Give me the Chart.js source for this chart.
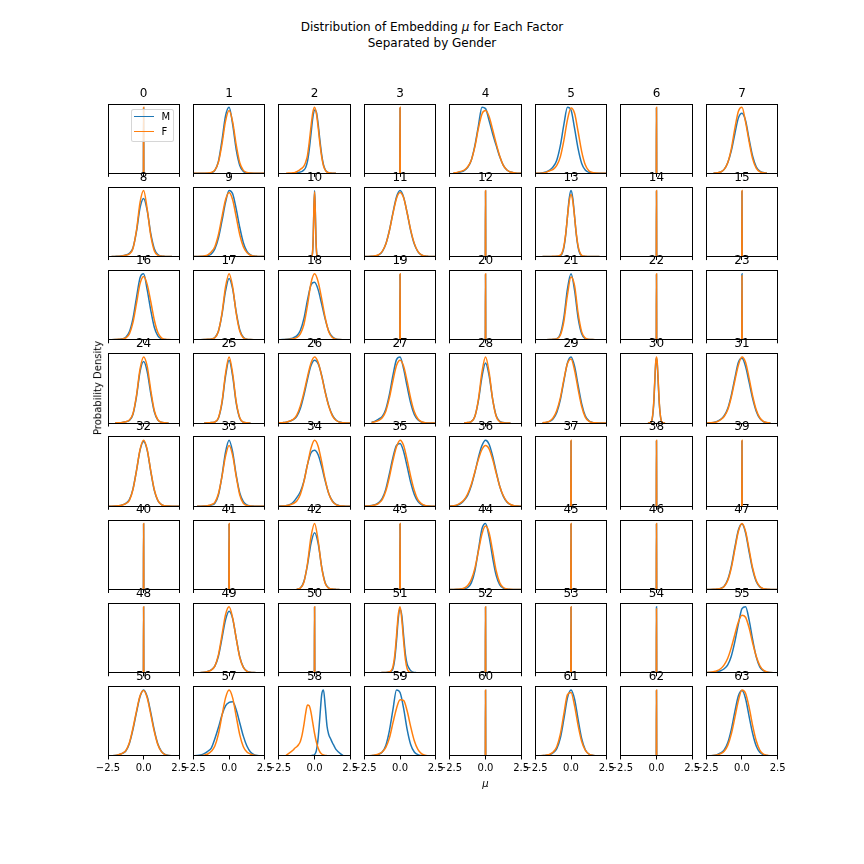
<!DOCTYPE html>
<html><head><meta charset="utf-8">
<script src="https://cdn.jsdelivr.net/npm/chart.js@4/dist/chart.umd.min.js"></script>
<style>
html,body{margin:0;padding:0;background:#fff;}
#fig{position:relative;width:864px;height:864px;overflow:hidden;background:#fff;font-family:'DejaVu Sans',sans-serif;color:#000;}
canvas.sub{position:absolute;}
.txt{position:absolute;white-space:nowrap;}
</style></head><body><div id="fig"></div>
<script>
// ---------- data ----------
const seriesNames = ['M', 'F'];
const seriesColors = ['#1f77b4', '#ff7f0e'];
const xTickValues = [-2.5, 0, 2.5];
const xTickLabels = ['\u22122.5', '0.0', '2.5'];
const factorLabels = Array.from({length: 64}, (_, i) => String(i));
const gridW = [-2.5,-2.25,-2,-1.75,-1.5,-1.25,-1,-0.75,-0.5,-0.25,0,0.25,0.5,0.75,1,1.25,1.5,1.75,2,2.25,2.5];
const gridF = [-2.5,-2,-1.5,-1.375,-1.25,-1.125,-1,-0.875,-0.75,-0.625,-0.5,-0.375,-0.25,-0.125,0,0.125,0.25,0.375,0.5,0.625,0.75,0.875,1,1.125,1.25,1.375,1.5,2,2.5];
const gridS = [-0.6,-0.4,-0.3,-0.2,-0.15,-0.1,-0.05,0,0.05,0.1,0.15,0.2,0.3,0.4,0.6];
const gridK = [-0.015,0,0.015];
// which x grid each factor's curves are sampled on
const factorGrid = ('KWFKWWKW' + 'WWSWKFKK' + 'WWWKKWKK' + 'WWWWWWSW' +
                    'WWWWWKKK' + 'KKWKWKKW' + 'KWKFKKKW' + 'WWFWKWKW').split('');
// relative density (peak of the taller curve = 1)
const densityM = [
/*0*/ [0,0.99,0],
/*1*/ [0,0,0,0,0.003,0.01,0.045,0.18,0.5,0.87,1.0,0.74,0.36,0.12,0.03,0.01,0.004,0.002,0.001,0,0],
/*2*/ [null,null,0.003,0.005,0.008,0.012,0.02,0.03,0.05,0.09,0.18,0.36,0.6,0.84,0.96,0.93,0.75,0.5,0.28,0.13,0.055,0.022,0.01,0.005,0.002,0.001,0,null,null],
/*3*/ [0,0.99,0],
/*4*/ [null,0.005,0.01,0.02,0.04,0.09,0.2,0.42,0.72,1.0,0.98,0.8,0.6,0.42,0.25,0.12,0.05,0.02,0.008,0.003,0.001],
/*5*/ [0.001,0.003,0.008,0.02,0.05,0.1,0.2,0.42,0.74,1.0,0.96,0.68,0.37,0.15,0.05,0.016,0.006,0.003,0.001,0.001,0],
/*6*/ [0,0.99,0],
/*7*/ [null,null,0.002,0.008,0.02,0.06,0.16,0.34,0.6,0.84,0.91,0.8,0.52,0.26,0.1,0.035,0.012,0.004,null,null,null],
/*8*/ [null,0.001,0.003,0.006,0.012,0.025,0.05,0.13,0.38,0.74,0.88,0.7,0.35,0.12,0.03,0.008,0.003,0.001,0,null,null],
/*9*/ [0.001,0.002,0.003,0.006,0.012,0.04,0.115,0.28,0.54,0.82,1.0,0.95,0.72,0.44,0.21,0.08,0.025,0.008,0.003,0.001,0.001],
/*10*/ [null,null,0,0.004,0.04,0.24,0.7,1.0,0.7,0.25,0.045,0.005,0,null,null],
/*11*/ [0.001,0.002,0.004,0.008,0.025,0.076,0.19,0.395,0.662,0.902,1.0,0.9,0.66,0.39,0.19,0.075,0.024,0.008,0.003,0.001,0],
/*12*/ [0,0.99,0],
/*13*/ [null,0.001,0.002,0.002,0.003,0.003,0.004,0.006,0.014,0.045,0.135,0.325,0.607,0.882,1.0,0.882,0.607,0.325,0.135,0.045,0.013,0.005,0.003,0.002,0.002,0.001,0.001,0,null],
/*14*/ [0,0.99,0],
/*15*/ [0,0.99,0],
/*16*/ [0.001,0.002,0.004,0.008,0.015,0.04,0.12,0.32,0.64,0.94,1.0,0.76,0.45,0.19,0.06,0.015,0.005,0.002,0.001,0,0],
/*17*/ [null,0.001,0.002,0.004,0.008,0.014,0.035,0.13,0.38,0.74,0.93,0.77,0.42,0.15,0.04,0.01,0.004,0.002,0.001,0.001,null],
/*18*/ [0.002,0.004,0.008,0.015,0.03,0.06,0.14,0.32,0.6,0.83,0.87,0.76,0.54,0.31,0.13,0.045,0.015,0.005,0.002,0.001,0],
/*19*/ [0,0.99,0],
/*20*/ [0,0.99,0],
/*21*/ [null,null,0.001,0.002,0.004,0.008,0.016,0.09,0.34,0.77,1.0,0.75,0.33,0.09,0.016,0.006,0.003,0.002,0.001,0.001,0],
/*22*/ [0,0.99,0],
/*23*/ [0,1,0],
/*24*/ [null,null,0.002,0.005,0.01,0.02,0.04,0.13,0.4,0.78,0.93,0.78,0.45,0.17,0.045,0.012,0.004,0.001,null,null,null],
/*25*/ [null,null,null,0.001,0.003,0.008,0.014,0.072,0.3,0.71,0.95,0.71,0.3,0.072,0.014,0.004,0.001,null,null,null,null],
/*26*/ [0.003,0.006,0.012,0.028,0.05,0.1,0.22,0.42,0.66,0.87,0.95,0.9,0.72,0.47,0.26,0.12,0.045,0.015,0.005,0.002,0.001],
/*27*/ [null,null,0.01,0.03,0.06,0.1,0.21,0.43,0.72,0.96,1.0,0.82,0.55,0.3,0.13,0.05,0.016,0.005,0.002,0.001,0],
/*28*/ [null,null,null,null,0.002,0.008,0.022,0.1,0.34,0.7,0.91,0.72,0.36,0.11,0.025,0.007,0.002,0.001,null,null,null],
/*29*/ [null,null,0.004,0.01,0.025,0.065,0.16,0.35,0.64,0.91,1.0,0.86,0.57,0.29,0.11,0.035,0.01,0.004,0.002,0.001,0],
/*30*/ [0,0.01,0.06,0.27,0.48,0.72,0.92,0.98,0.9,0.7,0.48,0.28,0.07,0.01,0],
/*31*/ [0.002,0.004,0.01,0.025,0.055,0.11,0.22,0.42,0.68,0.92,0.98,0.86,0.62,0.37,0.18,0.07,0.022,0.006,0.002,null,null],
/*32*/ [0.001,0.002,0.004,0.008,0.02,0.045,0.1,0.26,0.54,0.85,0.98,0.85,0.53,0.24,0.085,0.025,0.008,0.004,0.002,0.001,0],
/*33*/ [null,0.001,0.002,0.004,0.008,0.02,0.045,0.17,0.46,0.82,1.0,0.82,0.47,0.2,0.07,0.02,0.006,0.002,0.001,0.001,0],
/*34*/ [0.002,0.004,0.01,0.025,0.06,0.13,0.22,0.38,0.63,0.81,0.85,0.78,0.6,0.38,0.19,0.08,0.028,0.009,0.003,0.001,0],
/*35*/ [0.002,0.005,0.012,0.025,0.055,0.12,0.26,0.49,0.74,0.92,0.95,0.83,0.6,0.36,0.18,0.075,0.027,0.009,0.003,0.001,0],
/*36*/ [0.002,0.006,0.015,0.04,0.09,0.17,0.31,0.51,0.74,0.92,1.0,0.94,0.76,0.52,0.3,0.15,0.065,0.025,0.008,0.003,0.001],
/*37*/ [0,0.99,0],
/*38*/ [0,0.99,0],
/*39*/ [0,0.99,0],
/*40*/ [0,0.99,0],
/*41*/ [0,0.99,0],
/*42*/ [null,null,null,null,null,0.004,0.022,0.12,0.37,0.7,0.86,0.7,0.34,0.1,0.022,0.007,0.002,0.001,null,null,null],
/*43*/ [0,0.99,0],
/*44*/ [0.001,0.002,0.004,0.008,0.015,0.03,0.1,0.28,0.6,0.92,1.0,0.8,0.48,0.21,0.07,0.02,0.006,0.002,0.001,0,0],
/*45*/ [0,0.99,0],
/*46*/ [0,0.99,0],
/*47*/ [0.001,0.002,0.004,0.008,0.016,0.05,0.15,0.35,0.64,0.9,0.99,0.86,0.57,0.3,0.12,0.04,0.012,0.005,0.002,0.001,0],
/*48*/ [0,0.99,0],
/*49*/ [null,null,0.004,0.008,0.02,0.045,0.1,0.25,0.52,0.8,0.93,0.82,0.52,0.24,0.085,0.024,0.008,0.003,0.001,null,null],
/*50*/ [0,0.99,0],
/*51*/ [null,null,null,0.001,0.002,0.003,0.004,0.006,0.01,0.02,0.06,0.2,0.48,0.82,0.96,0.86,0.56,0.28,0.13,0.07,0.03,0.012,0.005,0.002,null,null,null,null,null],
/*52*/ [0,0.99,0],
/*53*/ [0,0.99,0],
/*54*/ [0,1,0],
/*55*/ [0.002,0.004,0.008,0.015,0.03,0.06,0.12,0.25,0.47,0.74,0.97,1.0,0.8,0.5,0.24,0.09,0.03,0.01,0.003,0.001,0],
/*56*/ [0.002,0.004,0.008,0.02,0.04,0.075,0.19,0.4,0.66,0.9,1.0,0.9,0.66,0.39,0.18,0.07,0.022,0.008,0.004,0.002,null],
/*57*/ [0.002,0.006,0.015,0.035,0.07,0.12,0.26,0.43,0.62,0.76,0.81,0.82,0.7,0.5,0.3,0.15,0.06,0.02,0.006,0.002,0.001],
/*58*/ [null,null,null,null,null,null,null,null,null,null,0,0.002,0.005,0.01,0.02,0.08,0.27,0.6,0.93,1.0,0.75,0.45,0.32,0.26,0.2,0.15,0.1,0.005,null],
/*59*/ [0.001,0.002,0.005,0.01,0.025,0.06,0.16,0.38,0.7,1.0,0.96,0.72,0.4,0.17,0.06,0.02,0.007,0.003,0.001,0.001,0],
/*60*/ [0,0.99,0],
/*61*/ [0.001,0.002,0.005,0.01,0.02,0.05,0.11,0.27,0.56,0.88,1.0,0.86,0.55,0.26,0.095,0.03,0.01,0.004,0.001,null,null],
/*62*/ [0,0.99,0],
/*63*/ [null,0.003,0.008,0.02,0.045,0.09,0.2,0.4,0.67,0.91,0.99,0.87,0.6,0.34,0.15,0.055,0.018,0.006,0.002,0.001,null]
];
const densityF = [
/*0*/ [0,1,0],
/*1*/ [0,0,0,0.002,0.006,0.015,0.05,0.17,0.44,0.79,0.95,0.78,0.43,0.16,0.045,0.012,0.005,0.002,0.001,0,0],
/*2*/ [null,0.003,0.01,0.015,0.025,0.04,0.06,0.08,0.11,0.17,0.27,0.47,0.71,0.92,1.0,0.91,0.70,0.45,0.25,0.115,0.05,0.02,0.008,0.004,0.002,0.001,0,null,null],
/*3*/ [0,1,0],
/*4*/ [null,0.008,0.015,0.03,0.05,0.1,0.2,0.4,0.68,0.9,0.95,0.86,0.66,0.45,0.26,0.12,0.05,0.02,0.008,0.003,0.001],
/*5*/ [0.001,0.002,0.006,0.015,0.04,0.06,0.12,0.25,0.5,0.81,0.99,0.91,0.63,0.33,0.13,0.04,0.013,0.005,0.002,0.001,0],
/*6*/ [0,1,0],
/*7*/ [null,null,0.002,0.008,0.02,0.06,0.16,0.37,0.68,0.94,1.0,0.78,0.48,0.22,0.08,0.025,0.008,0.002,null,null,null],
/*8*/ [null,0.001,0.003,0.006,0.01,0.02,0.04,0.12,0.4,0.82,1.0,0.72,0.32,0.09,0.02,0.006,0.003,0.001,0,null,null],
/*9*/ [0.001,0.002,0.004,0.01,0.025,0.07,0.15,0.33,0.6,0.86,0.97,0.86,0.6,0.33,0.15,0.06,0.02,0.007,0.003,0.001,0.001],
/*10*/ [null,null,0,0.005,0.05,0.26,0.72,0.98,0.68,0.24,0.04,0.004,0,null,null],
/*11*/ [0.002,0.003,0.006,0.012,0.03,0.08,0.19,0.39,0.65,0.88,0.97,0.89,0.66,0.4,0.2,0.08,0.027,0.009,0.003,0.001,0],
/*12*/ [0,1,0],
/*13*/ [null,0.001,0.002,0.003,0.004,0.005,0.006,0.01,0.022,0.06,0.16,0.34,0.6,0.84,0.94,0.84,0.6,0.34,0.16,0.06,0.02,0.007,0.004,0.003,0.002,0.001,0.001,0,null],
/*14*/ [0,1,0],
/*15*/ [0,1,0],
/*16*/ [0.001,0.002,0.004,0.007,0.012,0.03,0.09,0.26,0.55,0.85,0.96,0.84,0.58,0.3,0.11,0.03,0.008,0.003,0.001,0,0],
/*17*/ [null,0.001,0.002,0.004,0.007,0.012,0.03,0.13,0.4,0.8,1.0,0.8,0.4,0.13,0.03,0.008,0.004,0.002,0.001,0.001,null],
/*18*/ [0.001,0.002,0.004,0.008,0.015,0.035,0.09,0.23,0.52,0.86,1.0,0.88,0.62,0.33,0.12,0.035,0.01,0.003,0.001,0,0],
/*19*/ [0,1,0],
/*20*/ [0,1,0],
/*21*/ [null,null,0.001,0.002,0.004,0.008,0.014,0.07,0.28,0.68,0.95,0.82,0.4,0.12,0.025,0.008,0.004,0.002,0.001,0.001,0],
/*22*/ [0,1,0],
/*23*/ [0,0.97,0],
/*24*/ [null,null,0.002,0.005,0.01,0.02,0.045,0.14,0.42,0.82,1.0,0.86,0.5,0.19,0.05,0.012,0.004,0.001,null,null,null],
/*25*/ [null,null,null,0.001,0.003,0.008,0.015,0.08,0.32,0.75,1.0,0.75,0.32,0.08,0.015,0.004,0.001,null,null,null,null],
/*26*/ [0.003,0.006,0.012,0.03,0.055,0.12,0.26,0.46,0.7,0.91,1.0,0.92,0.71,0.46,0.25,0.11,0.042,0.014,0.005,0.002,0.001],
/*27*/ [null,null,0.008,0.02,0.04,0.08,0.18,0.38,0.64,0.87,0.95,0.86,0.63,0.37,0.17,0.065,0.02,0.006,0.002,0.001,0],
/*28*/ [null,null,null,null,0.002,0.008,0.02,0.1,0.36,0.77,1.0,0.77,0.36,0.1,0.02,0.006,0.002,0.001,null,null,null],
/*29*/ [null,null,0.005,0.012,0.03,0.08,0.19,0.38,0.66,0.9,0.97,0.8,0.51,0.25,0.09,0.028,0.008,0.003,0.002,0.001,0],
/*30*/ [0,0.01,0.07,0.3,0.51,0.74,0.93,1.0,0.93,0.74,0.51,0.3,0.07,0.01,0],
/*31*/ [0.002,0.004,0.008,0.02,0.05,0.1,0.2,0.39,0.64,0.88,1.0,0.92,0.68,0.41,0.2,0.08,0.025,0.007,0.002,null,null],
/*32*/ [0.001,0.002,0.004,0.008,0.02,0.04,0.09,0.25,0.54,0.86,1.0,0.86,0.54,0.25,0.09,0.025,0.008,0.004,0.002,0.001,0],
/*33*/ [null,0.001,0.002,0.004,0.01,0.025,0.06,0.19,0.45,0.76,0.92,0.77,0.45,0.17,0.045,0.012,0.004,0.002,0.001,0.001,0],
/*34*/ [0.001,0.003,0.008,0.018,0.04,0.08,0.18,0.37,0.63,0.88,1.0,0.91,0.67,0.4,0.19,0.075,0.025,0.008,0.003,0.001,0],
/*35*/ [0.002,0.005,0.01,0.02,0.045,0.1,0.23,0.44,0.69,0.9,1.0,0.92,0.7,0.45,0.24,0.1,0.04,0.013,0.004,0.001,0],
/*36*/ [0.003,0.009,0.022,0.05,0.1,0.19,0.33,0.52,0.71,0.86,0.92,0.87,0.71,0.5,0.3,0.16,0.07,0.027,0.009,0.003,0.001],
/*37*/ [0,1,0],
/*38*/ [0,1,0],
/*39*/ [0,1,0],
/*40*/ [0,1,0],
/*41*/ [0,1,0],
/*42*/ [null,null,null,null,null,0.004,0.02,0.11,0.39,0.8,1.0,0.74,0.33,0.09,0.02,0.006,0.002,0.001,null,null,null],
/*43*/ [0,1,0],
/*44*/ [0.001,0.002,0.004,0.008,0.02,0.06,0.15,0.32,0.58,0.84,0.96,0.86,0.58,0.28,0.1,0.03,0.008,0.003,0.001,0,0],
/*45*/ [0,1,0],
/*46*/ [0,1,0],
/*47*/ [0.001,0.002,0.004,0.008,0.015,0.045,0.135,0.325,0.607,0.882,1.0,0.882,0.607,0.325,0.135,0.044,0.013,0.005,0.002,0.001,0],
/*48*/ [0,1,0],
/*49*/ [null,null,0.004,0.008,0.02,0.04,0.1,0.27,0.57,0.88,1.0,0.83,0.52,0.23,0.08,0.022,0.007,0.003,0.001,null,null],
/*50*/ [0,1,0],
/*51*/ [null,null,null,0.001,0.002,0.003,0.005,0.008,0.015,0.03,0.09,0.26,0.56,0.88,1.0,0.8,0.48,0.2,0.06,0.015,0.005,0.002,0.001,null,null,null,null,null,null],
/*52*/ [0,1,0],
/*53*/ [0,1,0],
/*54*/ [0,0.97,0],
/*55*/ [0.004,0.008,0.016,0.03,0.06,0.12,0.22,0.38,0.58,0.77,0.87,0.84,0.68,0.45,0.25,0.11,0.04,0.013,0.004,0.001,0],
/*56*/ [0.002,0.004,0.008,0.02,0.04,0.08,0.2,0.42,0.68,0.91,0.99,0.88,0.63,0.37,0.17,0.065,0.02,0.007,0.003,0.001,null],
/*57*/ [0.001,0.002,0.005,0.012,0.03,0.07,0.15,0.33,0.61,0.88,1.0,0.88,0.6,0.32,0.14,0.06,0.03,0.012,0.004,0.001,0],
/*58*/ [null,0.01,0.09,0.12,0.14,0.17,0.22,0.32,0.47,0.65,0.77,0.76,0.66,0.5,0.34,0.21,0.12,0.06,0.03,0.015,0.008,0.005,0.003,0.002,0.001,null,null,null,null],
/*59*/ [0.002,0.004,0.008,0.015,0.03,0.06,0.13,0.27,0.5,0.72,0.85,0.84,0.68,0.44,0.23,0.1,0.035,0.01,0.004,0.002,0.001],
/*60*/ [0,1,0],
/*61*/ [0.001,0.002,0.006,0.012,0.025,0.06,0.14,0.33,0.64,0.93,0.96,0.76,0.46,0.22,0.09,0.03,0.01,0.004,0.001,null,null],
/*62*/ [0,1,0],
/*63*/ [null,0.003,0.006,0.015,0.035,0.07,0.16,0.33,0.58,0.84,1.0,0.95,0.74,0.46,0.23,0.09,0.03,0.01,0.003,0.001,null]
];

// ---------- layout ----------
const AX_LEFT = 108, COL_PITCH = 85.48, AX_W = 71.23;
const AX_TOP = 104, ROW_PITCH = 83.23, AX_H = 69.36;
const CW = 110, CH = 120, TITLE_H = 17, PAD_L = 19, PAD_T = 23;
const grids = {W: gridW, F: gridF, S: gridS, K: gridK};
const fig = document.getElementById('fig');

Chart.defaults.font.family = "'DejaVu Sans', sans-serif";
Chart.defaults.color = '#000';

const framePlugin = {
  id: 'frame',
  afterDatasetsDraw(chart) {
    const a = chart.chartArea, ctx = chart.ctx;
    ctx.save();
    ctx.strokeStyle = '#000';
    ctx.lineWidth = 1;
    const l = Math.floor(a.left) + 0.5, t = Math.floor(a.top) + 0.5;
    const r = Math.floor(a.right) + 0.5, b = Math.floor(a.bottom) + 0.5;
    ctx.strokeRect(l, t, r - l, b - t);
    ctx.restore();
  }
};

for (let k = 0; k < 64; k++) {
  const row = Math.floor(k / 8), col = k % 8;
  const axL = AX_LEFT + col * COL_PITCH, axT = AX_TOP + row * ROW_PITCH;
  const cl = Math.floor(axL) - PAD_L, ct = Math.floor(axT) - PAD_T;
  const cv = document.createElement('canvas');
  cv.width = CW; cv.height = CH; cv.className = 'sub';
  cv.style.left = cl + 'px'; cv.style.top = ct + 'px';
  cv.style.width = CW + 'px'; cv.style.height = CH + 'px';
  fig.appendChild(cv);
  const padL = axL - cl, padR = CW - padL - AX_W, padT = (axT - ct) - TITLE_H;
  const xH = CH - (axT - ct) - AX_H;
  const grid = grids[factorGrid[k]];
  const mk = vals => grid.map((x, i) => ({x: x, y: vals[i]}));
  const ds = (idx, vals) => ({
    label: seriesNames[idx], data: mk(vals), borderColor: seriesColors[idx],
    backgroundColor: seriesColors[idx], borderWidth: 1.5, pointRadius: 0,
    cubicInterpolationMode: 'monotone', fill: false, order: idx === 0 ? 1 : 0
  });
  new Chart(cv, {
    type: 'line',
    data: {datasets: [ds(0, densityM[k]), ds(1, densityF[k])]},
    options: {
      responsive: false, animation: false, devicePixelRatio: 1, events: [],
      layout: {padding: {left: padL, right: padR, top: padT, bottom: 0}, autoPadding: false},
      plugins: {
        legend: {display: false}, tooltip: {enabled: false},
        title: {display: true, text: factorLabels[k], color: '#000',
          font: {size: 12, weight: 'normal'}, padding: {top: 0, bottom: TITLE_H - 14.4}}
      },
      scales: {
        x: {
          type: 'linear', min: -2.5, max: 2.5,
          afterBuildTicks: s => { s.ticks = xTickValues.map(v => ({value: v})); },
          afterFit: s => { s.height = xH; },
          ticks: {display: row === 7, autoSkip: false, maxRotation: 0, minRotation: 0, padding: 3,
            color: '#000', font: {size: 10}, callback: (v, i) => xTickLabels[i]},
          grid: {drawOnChartArea: false, drawTicks: true, tickLength: 3.5, color: '#000', lineWidth: 1},
          border: {display: false}
        },
        y: {display: false, min: 0, max: 1.05}
      }
    },
    plugins: [framePlugin]
  });
}

// ---------- figure texts & legend ----------
function addText(html, style) {
  const d = document.createElement('div');
  d.className = 'txt'; d.innerHTML = html; d.style.cssText += style;
  fig.appendChild(d); return d;
}
addText('Distribution of Embedding <i>μ</i> for Each Factor<br>Separated by Gender',
  'left:0;width:864px;top:18.85px;text-align:center;font-size:12px;line-height:16px;');
const rowMid = AX_TOP + 3 * ROW_PITCH + AX_H / 2;
addText('Probability Density',
  'left:98.2px;top:' + rowMid + 'px;font-size:10px;line-height:11.64px;transform:translate(-50%,-50%) rotate(-90deg);');
const colMid = AX_LEFT + 4 * COL_PITCH + AX_W / 2;
addText('<i>μ</i>', 'left:' + colMid + 'px;top:778px;font-size:10px;line-height:11.64px;transform:translateX(-50%);');

const lg = document.createElement('div');
lg.style.cssText = 'position:absolute;left:130.5px;top:109.3px;width:43.5px;height:32.7px;box-sizing:border-box;' +
  'border:1px solid rgba(204,204,204,0.8);border-radius:2.5px;background:rgba(255,255,255,0.8);';
fig.appendChild(lg);
seriesNames.forEach((name, i) => {
  const yc = 116.7 + i * 15;
  const ln = document.createElement('div');
  ln.style.cssText = 'position:absolute;left:133.8px;width:20px;top:' + (yc - 0.75) + 'px;height:1.5px;background:' + seriesColors[i] + ';';
  fig.appendChild(ln);
  addText(name, 'left:161.5px;top:' + (yc - 5.65) + 'px;font-size:10px;line-height:11.64px;');
});
</script></body></html>
